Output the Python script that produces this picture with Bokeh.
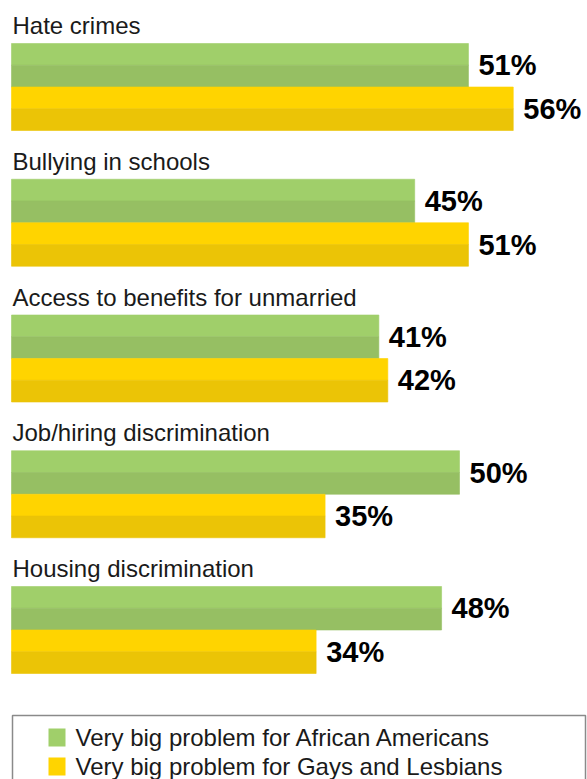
from bokeh.plotting import figure
from bokeh.models import Range1d, ColumnDataSource
from bokeh.core.properties import value
from bokeh.embed import file_html
from bokeh.resources import INLINE

# ---- data ----
categories = ["Hate crimes", "Bullying in schools", "Access to benefits for unmarried",
              "Job/hiring discrimination", "Housing discrimination"]
african_americans = [51, 45, 41, 50, 48]
gays_lesbians = [56, 51, 42, 35, 34]
series_names = ["Very big problem for African Americans",
                "Very big problem for Gays and Lesbians"]

# ---- styles / layout ----
W, H = 587, 779
X0 = 11.0            # pixel where 0% sits
PX_PER_PCT = 8.96    # pixels per percentage point
FIRST_TOP = 43.0     # top of first bar (y grows downward, pixel-like units)
PERIOD = 135.75      # distance between groups
BAR_H = 43.5
HALF = BAR_H / 2

GREEN_LIGHT, GREEN_DARK = "#A0CF6A", "#96BF63"
YELLOW_LIGHT, YELLOW_DARK = "#FFD400", "#EBC406"
TEXT = "#1a1a1a"
FONT = "Liberation Sans"

def px_to_x(px):
    return (px - X0) / PX_PER_PCT

p = figure(width=W, height=H, output_backend="svg", toolbar_location=None,
           x_range=Range1d(px_to_x(0), px_to_x(W)), y_range=Range1d(H, 0),
           min_border=0, min_border_left=0, min_border_right=0,
           min_border_top=0, min_border_bottom=0)
p.axis.visible = False
p.grid.visible = False
p.outline_line_color = None
p.background_fill_color = "white"
p.border_fill_color = "white"

n = len(categories)
tops = [FIRST_TOP + PERIOD * i for i in range(n)]

def half_src(vals, offset):
    return ColumnDataSource(dict(y=[t + offset for t in tops], right=vals))

def bar(vals, offset, color):
    p.hbar(y="y", right="right", left=0, height=HALF, source=half_src(vals, offset),
           fill_color=color, line_color=color, line_width=0.6)

# green bars (two tones)
bar(african_americans, HALF * 0.5, GREEN_LIGHT)
bar(african_americans, HALF * 1.5, GREEN_DARK)
# yellow bars (two tones)
bar(gays_lesbians, BAR_H + HALF * 0.5, YELLOW_LIGHT)
bar(gays_lesbians, BAR_H + HALF * 1.5, YELLOW_DARK)

# category labels
p.text(x=[0] * n, y=[t - 18 for t in tops], text=categories, x_offset=1,
       text_font=value(FONT), text_font_size="24px", text_color=TEXT,
       text_baseline="alphabetic", text_align="left")

# value labels
p.text(x=african_americans, y=[t + HALF for t in tops],
       text=[f"{v}%" for v in african_americans], x_offset=10,
       text_font=value(FONT), text_font_size="29px", text_font_style="bold",
       text_color="black", text_baseline="middle", text_align="left")
p.text(x=gays_lesbians, y=[t + BAR_H + HALF for t in tops],
       text=[f"{v}%" for v in gays_lesbians], x_offset=10,
       text_font=value(FONT), text_font_size="29px", text_font_style="bold",
       text_color="black", text_baseline="middle", text_align="left")

# legend (manual)
p.quad(left=[px_to_x(12)], right=[px_to_x(585)], top=[715], bottom=[800],
       fill_color=None, line_color="#8a8a8a", line_width=1.5)
leg_y = [737, 766]
p.quad(left=[px_to_x(48)] * 2, right=[px_to_x(65)] * 2,
       top=[y - 9 for y in leg_y], bottom=[y + 9 for y in leg_y],
       fill_color=[GREEN_LIGHT, YELLOW_LIGHT], line_color=None)
p.text(x=[px_to_x(75)] * 2, y=leg_y, text=series_names,
       text_font=value(FONT), text_font_size="24px", text_color=TEXT,
       text_baseline="middle", text_align="left")

open("out.html", "w").write(file_html(p, INLINE))
